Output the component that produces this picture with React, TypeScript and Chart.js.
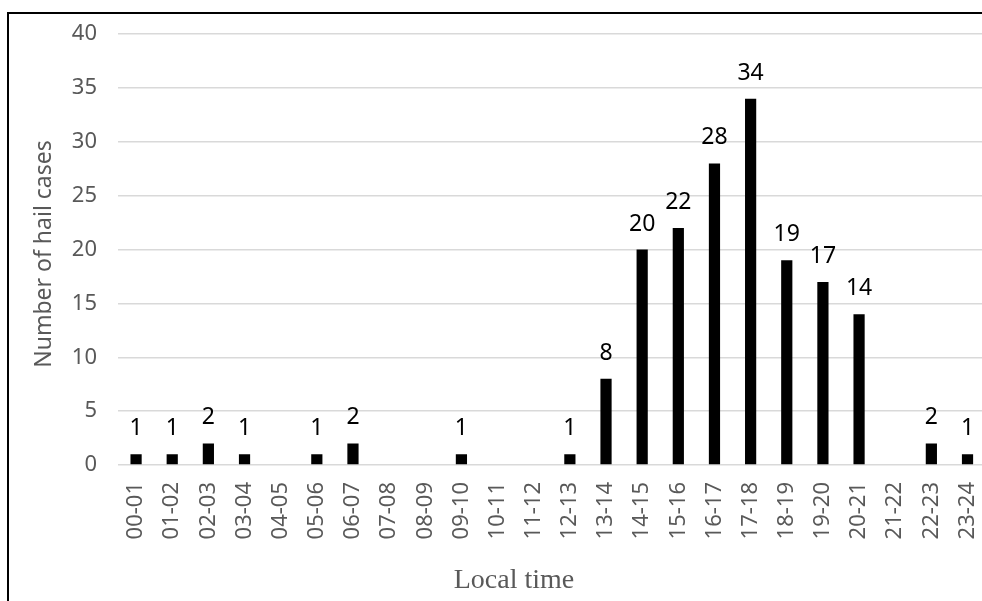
import React, { useEffect, useRef } from "react";
import { Chart, registerables } from "chart.js";

Chart.register(...registerables);

const categories = [
  "00-01", "01-02", "02-03", "03-04", "04-05", "05-06", "06-07", "07-08",
  "08-09", "09-10", "10-11", "11-12", "12-13", "13-14", "14-15", "15-16",
  "16-17", "17-18", "18-19", "19-20", "20-21", "21-22", "22-23", "23-24",
];
const hailCases = [1, 1, 2, 1, 0, 1, 2, 0, 0, 1, 0, 0, 1, 8, 20, 22, 28, 34, 19, 17, 14, 0, 2, 1];
const yTicks = [0, 5, 10, 15, 20, 25, 30, 35, 40];
const yTitle = "Number of hail cases";
const xTitle = "Local time";

const CW = 1011;
const CH = 601;

const labelsPlugin = {
  id: "customLabels",
  afterDatasetsDraw(chart: any) {
    const ctx = chart.ctx;
    const meta = chart.getDatasetMeta(0);
    ctx.save();
    ctx.fillStyle = "#000000";
    ctx.font = '23px "Noto Sans"';
    ctx.textAlign = "center";
    ctx.textBaseline = "alphabetic";
    meta.data.forEach((bar: any, i: number) => {
      const v = hailCases[i];
      if (!v) return;
      ctx.fillText(String(v), bar.x, bar.y - 19);
    });
    ctx.restore();
  },
  afterDraw(chart: any) {
    const ctx = chart.ctx;
    ctx.save();
    ctx.fillStyle = "#595959";
    ctx.font = '23px "Noto Sans"';
    ctx.textAlign = "center";
    ctx.textBaseline = "middle";
    ctx.translate(44, 254);
    ctx.rotate(-Math.PI / 2);
    ctx.fillText(yTitle, 0, 0);
    ctx.restore();

    ctx.save();
    ctx.fillStyle = "#595959";
    ctx.font = '28px "Liberation Serif"';
    ctx.textAlign = "center";
    ctx.textBaseline = "alphabetic";
    ctx.fillText(xTitle, 514, 588);
    ctx.restore();
  },
};

export default function App() {
  const ref = useRef<HTMLCanvasElement>(null);
  useEffect(() => {
    if (!ref.current) return;
    const chart = new Chart(ref.current, {
      type: "bar",
      data: {
        labels: categories,
        datasets: [
          {
            data: hailCases,
            backgroundColor: "#000000",
            borderWidth: 0,
            categoryPercentage: 1,
            barPercentage: 0.31,
          },
        ],
      },
      options: {
        animation: false,
        responsive: false,
        maintainAspectRatio: false,
        devicePixelRatio: 1,
        layout: { padding: { left: 0, top: 34, right: 4, bottom: 0 } },
        plugins: {
          legend: { display: false },
          tooltip: { enabled: false },
        },
        scales: {
          x: {
            grid: { display: false, drawTicks: false },
            border: { display: false },
            ticks: {
              color: "#595959",
              font: { family: "Noto Sans", size: 22 },
              minRotation: 90,
              maxRotation: 90,
              padding: 17,
              autoSkip: false,
            },
            afterFit(scale: any) {
              scale.height = CH - 465;
            },
          },
          y: {
            min: 0,
            max: 40,
            afterBuildTicks(scale: any) {
              scale.ticks = yTicks.map((v) => ({ value: v }));
            },
            grid: { color: "#d9d9d9", lineWidth: 1.5, drawTicks: false },
            border: { display: false },
            ticks: {
              color: "#595959",
              font: { family: "Noto Sans", size: 22 },
              padding: 21,
            },
            afterFit(scale: any) {
              scale.width = 118;
            },
          },
        },
      },
      plugins: [labelsPlugin],
    });
    return () => chart.destroy();
  }, []);

  return (
    <div style={{ position: "fixed", left: 0, top: 0, width: 982, height: 601, overflow: "hidden", background: "#fff" }}>
      <canvas ref={ref} width={CW} height={CH} style={{ position: "absolute", left: 0, top: 0, width: CW, height: CH }} />
      <div
        style={{
          position: "absolute",
          left: 7,
          top: 12,
          width: 1100,
          height: 700,
          borderTop: "2px solid #000",
          borderLeft: "2px solid #000",
          pointerEvents: "none",
        }}
      />
    </div>
  );
}
